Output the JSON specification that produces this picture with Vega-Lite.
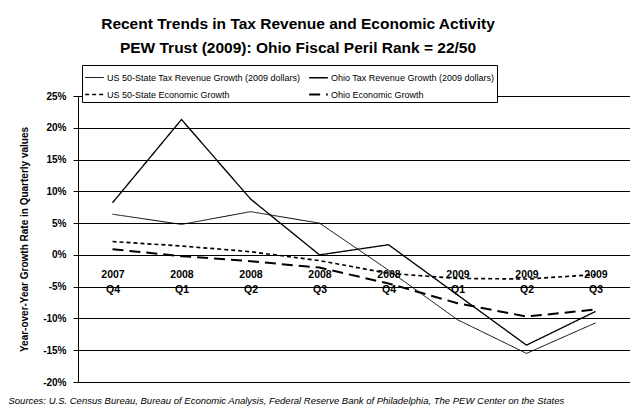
{
  "$schema": "https://vega.github.io/schema/vega-lite/v6.json",
  "width": 552,
  "height": 286,
  "autosize": {"type": "none"},
  "padding": {"left": 78, "top": 96, "right": 0, "bottom": 31},
  "background": "white",
  "config": {
    "font": "Liberation Sans",
    "view": {"stroke": null}
  },
  "title": {
    "text": ["Recent Trends in Tax Revenue and Economic Activity", "PEW Trust (2009): Ohio Fiscal Peril Rank = 22/50"],
    "fontSize": 15.5,
    "fontWeight": "bold",
    "color": "black",
    "anchor": "middle",
    "dx": -56,
    "offset": 8,
    "lineHeight": 24
  },
  "data": {
    "values": [
      {"q": "2007 Q4", "series": "US 50-State Tax Revenue Growth (2009 dollars)", "v": 6.4},
      {"q": "2008 Q1", "series": "US 50-State Tax Revenue Growth (2009 dollars)", "v": 4.8},
      {"q": "2008 Q2", "series": "US 50-State Tax Revenue Growth (2009 dollars)", "v": 6.8},
      {"q": "2008 Q3", "series": "US 50-State Tax Revenue Growth (2009 dollars)", "v": 5.0},
      {"q": "2008 Q4", "series": "US 50-State Tax Revenue Growth (2009 dollars)", "v": -2.4},
      {"q": "2009 Q1", "series": "US 50-State Tax Revenue Growth (2009 dollars)", "v": -10.2},
      {"q": "2009 Q2", "series": "US 50-State Tax Revenue Growth (2009 dollars)", "v": -15.5},
      {"q": "2009 Q3", "series": "US 50-State Tax Revenue Growth (2009 dollars)", "v": -10.7},
      {"q": "2007 Q4", "series": "Ohio Tax Revenue Growth (2009 dollars)", "v": 8.2},
      {"q": "2008 Q1", "series": "Ohio Tax Revenue Growth (2009 dollars)", "v": 21.3},
      {"q": "2008 Q2", "series": "Ohio Tax Revenue Growth (2009 dollars)", "v": 8.8},
      {"q": "2008 Q3", "series": "Ohio Tax Revenue Growth (2009 dollars)", "v": 0.0},
      {"q": "2008 Q4", "series": "Ohio Tax Revenue Growth (2009 dollars)", "v": 1.6},
      {"q": "2009 Q1", "series": "Ohio Tax Revenue Growth (2009 dollars)", "v": -6.3},
      {"q": "2009 Q2", "series": "Ohio Tax Revenue Growth (2009 dollars)", "v": -14.2},
      {"q": "2009 Q3", "series": "Ohio Tax Revenue Growth (2009 dollars)", "v": -8.9},
      {"q": "2007 Q4", "series": "US 50-State Economic Growth", "v": 2.1},
      {"q": "2008 Q1", "series": "US 50-State Economic Growth", "v": 1.4},
      {"q": "2008 Q2", "series": "US 50-State Economic Growth", "v": 0.5},
      {"q": "2008 Q3", "series": "US 50-State Economic Growth", "v": -0.9},
      {"q": "2008 Q4", "series": "US 50-State Economic Growth", "v": -2.9},
      {"q": "2009 Q1", "series": "US 50-State Economic Growth", "v": -3.7},
      {"q": "2009 Q2", "series": "US 50-State Economic Growth", "v": -3.8},
      {"q": "2009 Q3", "series": "US 50-State Economic Growth", "v": -3.1},
      {"q": "2007 Q4", "series": "Ohio Economic Growth", "v": 0.9},
      {"q": "2008 Q1", "series": "Ohio Economic Growth", "v": -0.2},
      {"q": "2008 Q2", "series": "Ohio Economic Growth", "v": -1.0},
      {"q": "2008 Q3", "series": "Ohio Economic Growth", "v": -2.0},
      {"q": "2008 Q4", "series": "Ohio Economic Growth", "v": -4.5},
      {"q": "2009 Q1", "series": "Ohio Economic Growth", "v": -7.6},
      {"q": "2009 Q2", "series": "Ohio Economic Growth", "v": -9.7},
      {"q": "2009 Q3", "series": "Ohio Economic Growth", "v": -8.6}
    ]
  },
  "mark": {"type": "line", "color": "black"},
  "encoding": {
    "x": {
      "field": "q",
      "type": "ordinal",
      "sort": null,
      "scale": {"type": "point", "padding": 0.5},
      "axis": {
        "offset": -127,
        "domain": false,
        "ticks": false,
        "grid": false,
        "labelAngle": 0,
        "labelFontSize": 10.5,
        "labelFontWeight": "bold",
        "labelColor": "black",
        "labelPadding": 14,
        "labelLineHeight": 15,
        "labelExpr": "split(datum.label, ' ')",
        "title": "Sources: U.S. Census Bureau, Bureau of Economic Analysis, Federal Reserve Bank of Philadelphia, The PEW Center on the States",
        "titleFontSize": 9.5,
        "titleFontStyle": "italic",
        "titleFontWeight": "normal",
        "titleColor": "black",
        "titleAnchor": "start",
        "titleX": -70,
        "titleY": 145,
        "titleBaseline": "middle"
      }
    },
    "y": {
      "field": "v",
      "type": "quantitative",
      "scale": {"domain": [-20, 25], "nice": false},
      "axis": {
        "values": [-20, -15, -10, -5, 0, 5, 10, 15, 20, 25],
        "labelExpr": "datum.value + '%'",
        "labelFontSize": 10,
        "labelFontWeight": "bold",
        "labelColor": "black",
        "labelPadding": 7,
        "tickColor": "black",
        "tickSize": 5,
        "domainColor": "black",
        "gridColor": "black",
        "gridWidth": 1,
        "gridOpacity": 1,
        "title": "Year-over-Year Growth Rate in Quarterly values",
        "titleFontSize": 10,
        "titleFontWeight": "bold",
        "titleColor": "black",
        "titlePadding": 13
      }
    },
    "color": {
      "field": "series",
      "type": "nominal",
      "scale": {
        "domain": ["US 50-State Tax Revenue Growth (2009 dollars)", "Ohio Tax Revenue Growth (2009 dollars)", "US 50-State Economic Growth", "Ohio Economic Growth"],
        "range": ["black", "black", "black", "black"]
      },
      "legend": {
        "title": null,
        "orient": "none",
        "legendX": 4,
        "legendY": -31,
        "direction": "horizontal",
        "columns": 2,
        "columnPadding": 4,
        "rowPadding": 1,
        "symbolType": "stroke",
        "symbolSize": 350,
        "labelFontSize": 9,
        "labelColor": "black",
        "labelLimit": 300,
        "padding": 2,
        "strokeColor": "black",
        "fillColor": "white",
        "labelOffset": 2
      }
    },
    "strokeDash": {
      "field": "series",
      "type": "nominal",
      "scale": {
        "domain": ["US 50-State Tax Revenue Growth (2009 dollars)", "Ohio Tax Revenue Growth (2009 dollars)", "US 50-State Economic Growth", "Ohio Economic Growth"],
        "range": [[1, 0], [1, 0], [4, 3], [11, 6]]
      },
      "legend": null
    },
    "strokeWidth": {
      "field": "series",
      "type": "nominal",
      "scale": {
        "domain": ["US 50-State Tax Revenue Growth (2009 dollars)", "Ohio Tax Revenue Growth (2009 dollars)", "US 50-State Economic Growth", "Ohio Economic Growth"],
        "range": [1, 2, 1.2, 2.5]
      },
      "legend": null
    }
  }
}
